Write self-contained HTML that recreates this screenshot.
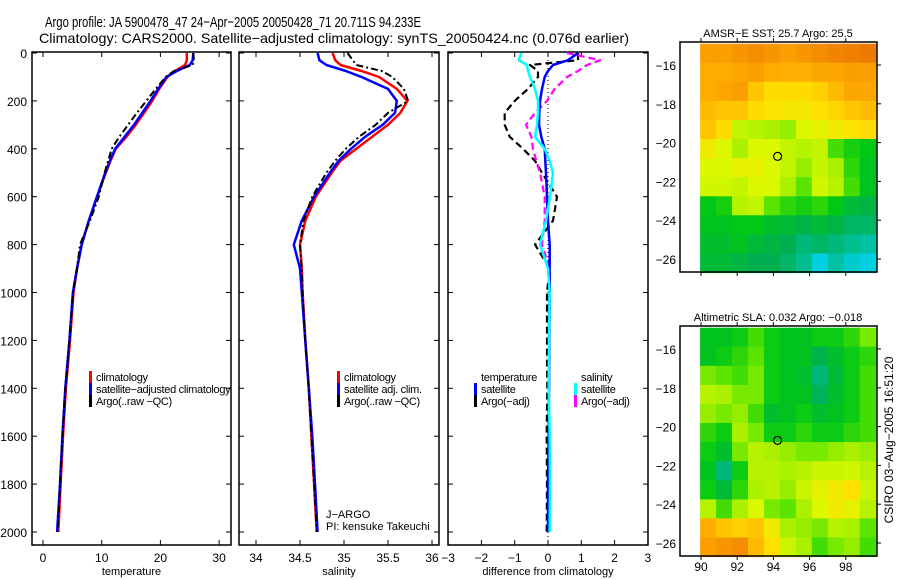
<!DOCTYPE html>
<html><head><meta charset="utf-8"><style>
body{margin:0;background:#fff}
svg{display:block;font-family:"Liberation Sans",sans-serif}
</style></head><body>
<svg id="c" width="900" height="580" viewBox="0 0 900 580">
<rect width="900" height="580" fill="#fff"/>
<text x="45" y="27" font-size="15" textLength="376" lengthAdjust="spacingAndGlyphs">Argo profile: JA 5900478_47 24−Apr−2005 20050428_71 20.711S 94.233E</text>
<text x="39" y="43" font-size="14" textLength="590" lengthAdjust="spacingAndGlyphs">Climatology: CARS2000. Satellite−adjusted climatology: synTS_20050424.nc (0.076d earlier)</text>
<g id="g"></g>
<text transform="translate(893,440) rotate(-90)" font-size="12" text-anchor="middle">CSIRO 03−Aug−2005 16:51:20</text>
</svg>
<script>
// ---- data ----
const depths=[0,30,50,75,100,150,200,250,300,350,400,450,500,600,700,800,900,1000,1200,1400,1600,1800,2000];
const tempClim=[24.5,24.5,24.2,22.5,21.2,19.8,18.6,17.2,15.8,14.2,12.4,11.5,10.7,9.2,7.8,6.6,5.8,5.2,4.6,3.9,3.4,3.0,2.6];
const tempSat=[25.6,25.5,25.0,22.8,21.0,19.6,18.3,16.9,15.5,13.9,12.3,11.4,10.6,9.2,7.8,6.6,5.8,5.1,4.5,3.8,3.3,2.9,2.4];
const tempArgo=[25.6,25.7,25.5,22.3,20.9,19.2,17.6,16.0,14.5,13.0,11.7,11.1,10.5,9.5,8.0,6.3,5.8,5.1,4.5,3.8,3.3,2.9,2.5];
const salClim=[34.87,34.9,34.96,35.2,35.4,35.6,35.72,35.64,35.5,35.32,35.14,34.96,34.86,34.68,34.56,34.5,34.52,34.53,34.56,34.6,34.63,34.66,34.69];
const salSat=[34.70,34.72,34.8,35.02,35.2,35.5,35.6,35.58,35.44,35.24,35.08,34.94,34.84,34.66,34.52,34.43,34.5,34.52,34.56,34.6,34.64,34.67,34.70];
const salArgo=[35.04,35.1,35.14,35.43,35.55,35.68,35.73,35.5,35.36,35.17,35.02,34.9,34.8,34.64,34.54,34.5,34.52,34.53,34.56,34.6,34.63,34.66,34.69];
const dTempSat=[0.9,0.6,0.15,0.0,-0.1,-0.18,-0.24,-0.26,-0.27,-0.2,-0.1,-0.08,-0.06,-0.03,0.0,0.05,0.05,0.05,0.04,0.03,0.02,0.0,0.0];
const dSalSat=[-0.8,-0.88,-0.63,-0.6,-0.54,-0.39,-0.3,-0.3,-0.33,-0.39,-0.1,0.05,0.15,0.06,-0.06,-0.24,0.0,0.05,0.03,0.02,0.05,0.06,0.05];
const dTempArgo=[0.9,0.9,-0.54,-0.3,-0.3,-0.6,-1.0,-1.3,-1.3,-1.15,-0.75,-0.39,-0.18,0.27,0.15,-0.39,0.05,-0.03,-0.03,-0.02,-0.04,-0.03,-0.04];
const dSalArgo=[0.57,1.57,1.17,0.9,0.57,0.2,-0.03,-0.39,-0.66,-0.5,-0.45,-0.35,-0.24,-0.1,-0.1,-0.18,0.05,0.05,0.03,0.02,0.04,0.03,0.02];
const depthTicks=[0,200,400,600,800,1000,1200,1400,1600,1800,2000];
const tempTicks=[0,10,20,30];
const salTicks=[34,34.5,35,35.5,36];
const diffTicks=[-3,-2,-1,0,1,2,3];
const lonTicks=[90,92,94,96,98];
const latTicks=[-16,-18,-20,-22,-24,-26];
const floatLon=94.233, floatLat=-20.711;
const sstGrid=[
[0.88,0.88,0.9,0.92,0.9,0.88,0.9,0.92,0.94,0.95,0.96],
[0.85,0.85,0.86,0.88,0.85,0.84,0.84,0.86,0.86,0.88,0.88],
[0.85,0.86,0.88,0.8,0.76,0.76,0.76,0.78,0.82,0.86,0.86],
[0.82,0.8,0.8,0.76,0.74,0.73,0.73,0.75,0.77,0.8,0.82],
[0.8,0.76,0.64,0.62,0.6,0.58,0.68,0.7,0.72,0.74,0.76],
[0.72,0.68,0.6,0.68,0.68,0.64,0.62,0.64,0.5,0.46,0.44],
[0.68,0.68,0.7,0.7,0.68,0.64,0.58,0.64,0.6,0.48,0.42],
[0.66,0.66,0.64,0.68,0.68,0.6,0.52,0.66,0.62,0.5,0.42],
[0.44,0.46,0.62,0.64,0.52,0.48,0.46,0.48,0.44,0.38,0.36],
[0.42,0.42,0.44,0.44,0.4,0.38,0.36,0.38,0.36,0.32,0.32],
[0.4,0.4,0.42,0.38,0.36,0.34,0.3,0.32,0.3,0.28,0.26],
[0.38,0.38,0.36,0.34,0.34,0.32,0.28,0.2,0.26,0.22,0.2]];
const slaGrid=[
[0.42,0.42,0.45,0.5,0.45,0.42,0.42,0.45,0.45,0.48,0.55],
[0.42,0.45,0.48,0.52,0.45,0.42,0.42,0.35,0.4,0.45,0.48],
[0.55,0.52,0.5,0.55,0.45,0.42,0.4,0.3,0.38,0.45,0.5],
[0.62,0.6,0.55,0.55,0.45,0.42,0.42,0.33,0.4,0.45,0.5],
[0.58,0.55,0.58,0.5,0.4,0.42,0.45,0.4,0.42,0.45,0.5],
[0.48,0.45,0.6,0.55,0.45,0.45,0.48,0.45,0.45,0.48,0.5],
[0.45,0.4,0.55,0.62,0.6,0.58,0.55,0.55,0.58,0.6,0.58],
[0.42,0.3,0.45,0.62,0.62,0.6,0.62,0.65,0.65,0.66,0.62],
[0.45,0.38,0.48,0.6,0.62,0.58,0.65,0.7,0.72,0.75,0.65],
[0.62,0.5,0.6,0.68,0.55,0.52,0.6,0.68,0.72,0.7,0.62],
[0.85,0.8,0.78,0.8,0.72,0.6,0.58,0.55,0.62,0.6,0.52],
[0.88,0.9,0.92,0.82,0.75,0.65,0.6,0.5,0.55,0.58,0.5]];

// ---- helpers ----
const NS='http://www.w3.org/2000/svg', G=document.getElementById('g');
function mk(tag,at,parent){const e=document.createElementNS(NS,tag);for(const k in at)e.setAttribute(k,at[k]);(parent||G).appendChild(e);return e;}
function txt(x,y,s,size,anchor,parent){const e=mk('text',{x:x,y:y,'font-size':size||11,'text-anchor':anchor||'start'},parent);e.textContent=s;return e;}
const yD=d=>53+d*0.2395;
const FT=52,FB=545;

function panel(name,x0,x1,xs,xticks,title,showDepthLabels){
  const g=mk('g',{});
  
  
  const f=mk('rect',{x:x0,y:FT,width:x1-x0,height:FB-FT,fill:'none',stroke:'#000','stroke-width':1.5},g);
  
  
  xticks.forEach(t=>{const x=xs(t);
    mk('line',{x1:x,x2:x,y1:FB,y2:FB-5,stroke:'#000'},g);mk('line',{x1:x,x2:x,y1:FT,y2:FT+5,stroke:'#000'},g);
    const l=txt(x,562,String(t).replace('-','−'),12,'middle',g);
    
    });
  depthTicks.forEach(d=>{const y=yD(d);
    mk('line',{x1:x0,x2:x0+5,y1:y,y2:y,stroke:'#000'},g);mk('line',{x1:x1,x2:x1-5,y1:y,y2:y,stroke:'#000'},g);
    if(showDepthLabels){const l=txt(27,y+5,String(d),12,'end',g);
      
      }});
  const t=txt((x0+x1)/2,575,title,11,'middle',g);
  
  
  return g;
}
function line(vals,xs,color,dash,w,name){
  const pts=vals.map((v,i)=>xs(v).toFixed(1)+','+yD(depths[i]).toFixed(1)).join(' ');
  const p=mk('polyline',{points:pts,fill:'none',stroke:color,'stroke-width':w||2.5,'stroke-dasharray':dash||'none','stroke-linejoin':'round'});
  
  
}
function legend(x,y,items,nameP){
  items.forEach((it,i)=>{const yy=y+i*12;
    if(it[0]){const m=mk('rect',{x:x-7,y:yy-10,width:3,height:12,fill:it[0]});
      
      }
    const t=txt(x,yy,it[1],11);
    t.setAttribute('style','letter-spacing:-0.3px');
    
    });
}

// Temperature panel
const xT=v=>43+v*5.87;
panel('temperature-panel',32,231,xT,tempTicks,'temperature',true);
line(tempClim,xT,'#f00',null,2.5,'temp-climatology-line');
line(tempSat,xT,'#00f',null,2.5,'temp-satellite-line');
line(tempArgo,xT,'#000','7,3,2,3',2,'temp-argo-line');
legend(96,381,[['#f00','climatology'],['#00f','satellite−adjusted climatology'],['#000','Argo(..raw −QC)']],'temp-legend');

// Salinity panel
const xS=v=>256+(v-34)*88;
panel('salinity-panel',239,439,xS,salTicks,'salinity',false);
line(salClim,xS,'#f00',null,2.5,'sal-climatology-line');
line(salSat,xS,'#00f',null,2.5,'sal-satellite-line');
line(salArgo,xS,'#000','7,3,2,3',2,'sal-argo-line');
legend(344,381,[['#f00','climatology'],['#00f','satellite adj. clim.'],['#000','Argo(..raw −QC)']],'sal-legend');
let t1=txt(326,518,'J−ARGO',11);


let t2=txt(326,530,'PI: kensuke Takeuchi',11);



// Difference panel
const xDf=v=>548+v*33.3;
panel('difference-panel',448,648,xDf,diffTicks,'difference from climatology',false);
const zl=mk('line',{x1:548,x2:548,y1:FT,y2:FB,stroke:'#000','stroke-dasharray':'1,3'});


line(dTempArgo,xDf,'#000','7,4',2.2,'diff-temp-argo-line');
line(dSalArgo,xDf,'#f0f','7,4',2.2,'diff-sal-argo-line');
line(dTempSat,xDf,'#00f',null,2.5,'diff-temp-satellite-line');
line(dSalSat,xDf,'#0ff',null,2.5,'diff-sal-satellite-line');
legend(481,381,[[null,'temperature'],['#00f','satellite'],['#000','Argo(−adj)']],'diff-temp-legend');
legend(581,381,[[null,'salinity'],['#0ff','satellite'],['#f0f','Argo(−adj)']],'diff-sal-legend');

// Maps
const stops=[[0,[16,96,255]],[0.2,[0,208,224]],[0.34,[0,176,80]],[0.44,[0,200,20]],[0.52,[90,228,0]],[0.6,[170,240,0]],[0.68,[220,248,0]],[0.75,[255,224,0]],[0.84,[255,176,0]],[0.95,[240,128,0]],[1,[224,96,0]]];
function cmap(v){for(let i=1;i<stops.length;i++){if(v<=stops[i][0]){const a=stops[i-1],b=stops[i],f=(v-a[0])/(b[0]-a[0]);
  return 'rgb('+a[1].map((c,k)=>Math.round(c+(b[1][k]-c)*f)).join(',')+')';}}return 'rgb(224,96,0)';}
function map(name,top,grid,title,showLon){
  const bottom=top+230;
  const xL=v=>701+(v-90)*18.1;
  const yL=v=>top+23+(-16-v)*19.4;
  const g=mk('g',{});
  
  
  const rows=grid.length,cols=grid[0].length;
  const lon0=89.95,lon1=99.65,lat0=-14.9,lat1=-26.7;
  grid.forEach((row,j)=>row.forEach((v,i)=>{
    const xa=xL(lon0+(lon1-lon0)*i/cols),xb=xL(lon0+(lon1-lon0)*(i+1)/cols);
    const ya=Math.max(top,yL(lat0+(lat1-lat0)*j/rows)),yb=yL(lat0+(lat1-lat0)*(j+1)/rows);
    const r=mk('rect',{x:xa.toFixed(1),y:ya.toFixed(1),width:(xb-xa+0.5).toFixed(1),height:(yb-ya+0.5).toFixed(1),fill:cmap(v)},g);
    
    }));
  const fr=mk('rect',{x:680,y:top,width:197,height:bottom-top,fill:'none',stroke:'#000','stroke-width':1.5},g);
  
  
  lonTicks.forEach(l=>{const x=xL(l);mk('line',{x1:x,x2:x,y1:top,y2:top-4,stroke:'#000'},g);mk('line',{x1:x,x2:x,y1:bottom,y2:bottom+4,stroke:'#000'},g);
    if(showLon){const t=txt(x,bottom+15,String(l),12,'middle',g);
      
      }});
  latTicks.forEach(l=>{const y=yL(l);mk('line',{x1:877,x2:881,y1:y,y2:y,stroke:'#000'},g);
    const t=txt(676,y+5,String(l).replace('-','−'),12,'end',g);
    
    });
  const c=mk('circle',{cx:xL(floatLon),cy:yL(floatLat),r:4,fill:'none',stroke:'#000','stroke-width':1.2},g);
  
  
  const t=txt(778,top-5,title,11,'middle',g);
  
  
}
map('sst-map',42,sstGrid,'AMSR−E SST: 25.7 Argo: 25.5',false);
map('sla-map',326,slaGrid,'Altimetric SLA: 0.032 Argo: −0.018',true);
</script>
</body></html>
